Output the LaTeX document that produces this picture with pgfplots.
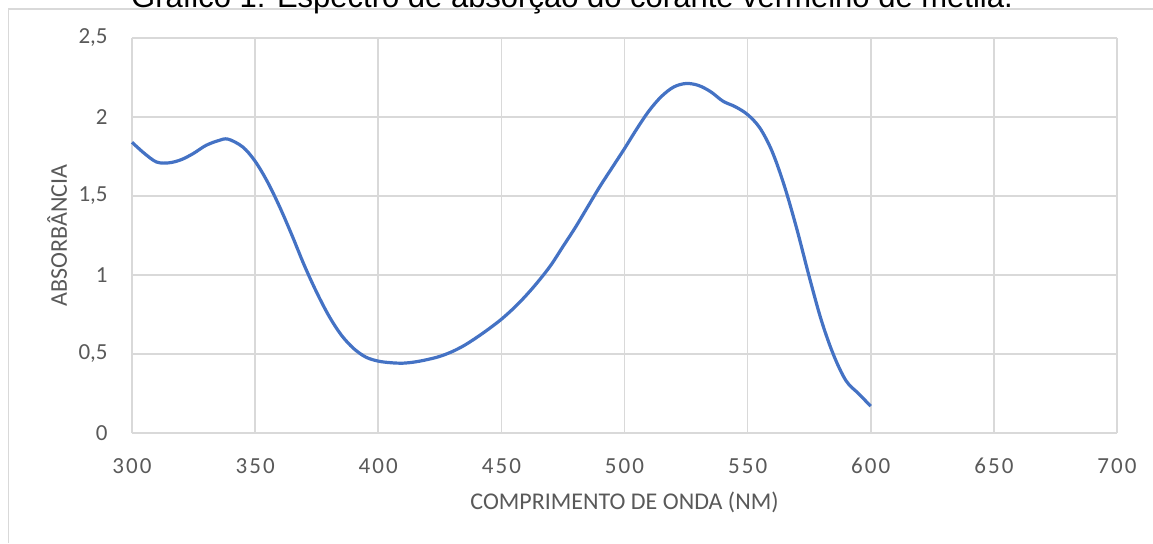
\documentclass[border=0pt]{standalone}
\usepackage{fontspec}
\setmainfont{Carlito}
\newfontfamily\arialfont{Liberation Sans}
\newfontfamily\spacedfont[LetterSpace=9]{Carlito}
\usepackage{pgfplots}
\pgfplotsset{compat=1.18}
\definecolor{exblue}{HTML}{4472C4}
\definecolor{exgrid}{HTML}{D9D9D9}
\definecolor{extext}{HTML}{595959}
\begin{document}
\begin{tikzpicture}
\useasboundingbox (0,0) rectangle (576.5pt,271.5pt);
\draw[exgrid, line width=0.8pt] (4.25pt,0) -- (4.25pt,266.9pt) -- (576.5pt,266.9pt);
\node[anchor=base, inner sep=0pt] at (286pt,268pt) {\arialfont\fontsize{15.5}{18}\selectfont Gráfico 1: Espectro de absorção do corante vermelho de metila.};
\begin{axis}[
  at={(66pt,55pt)}, anchor=south west,
  width=492.5pt, height=197.5pt, scale only axis,
  xmin=300, xmax=700, ymin=0, ymax=2.5,
  xtick={300,350,...,700},
  ytick={0,0.5,1,1.5,2,2.5},
  yticklabels={0,{0,5},1,{1,5},2,{2,5}},
  xticklabels={300,350,400,450,500,550,600,650,700},
  grid=major,
  major grid style={exgrid, line width=0.8pt},
  axis line style={draw=none},
  tick style={draw=none},
  xticklabel style={anchor=center, yshift=-16.5pt, font=\spacedfont\fontsize{11.5}{13}\selectfont, text=extext},
  yticklabel style={anchor=east, inner sep=0pt, xshift=-12pt, font=\fontsize{11.5}{13}\selectfont, text=extext},
  xlabel={COMPRIMENTO DE ONDA (NM)},
  ylabel={ABSORBÂNCIA},
  xlabel style={at={(axis description cs:0.5,-0.1747)}, anchor=center, font=\fontsize{12}{14}\selectfont, text=extext},
  ylabel style={at={(axis description cs:-0.0761,0.5)}, anchor=center, font=\fontsize{12}{14}\selectfont, text=extext},
  clip=false,
]
\addplot[exblue, line width=1.6pt, smooth, tension=0.55] coordinates {
(300,1.84) (305,1.77) (310,1.715) (315,1.71) (320,1.73) (325,1.77) (330,1.82) (335,1.85) (339,1.86)
(345,1.81) (350,1.72) (355,1.59) (360,1.43) (365,1.25) (370,1.06) (375,0.89) (380,0.74)
(385,0.62) (390,0.535) (395,0.48) (400,0.455) (405,0.445) (410,0.442) (415,0.45) (420,0.465)
(425,0.485) (430,0.515) (435,0.555) (440,0.605) (445,0.66) (450,0.72) (455,0.79) (460,0.87)
(465,0.96) (470,1.06) (475,1.18) (480,1.30) (485,1.43) (490,1.56) (495,1.68) (500,1.80)
(505,1.925) (510,2.04) (515,2.13) (520,2.19) (525,2.212) (530,2.20) (535,2.16) (540,2.10)
(545,2.065) (550,2.015) (555,1.93) (560,1.78) (565,1.56) (570,1.29) (575,0.99) (580,0.71)
(585,0.49) (590,0.33) (595,0.25) (600,0.17)
};
\end{axis}
\end{tikzpicture}
\end{document}
